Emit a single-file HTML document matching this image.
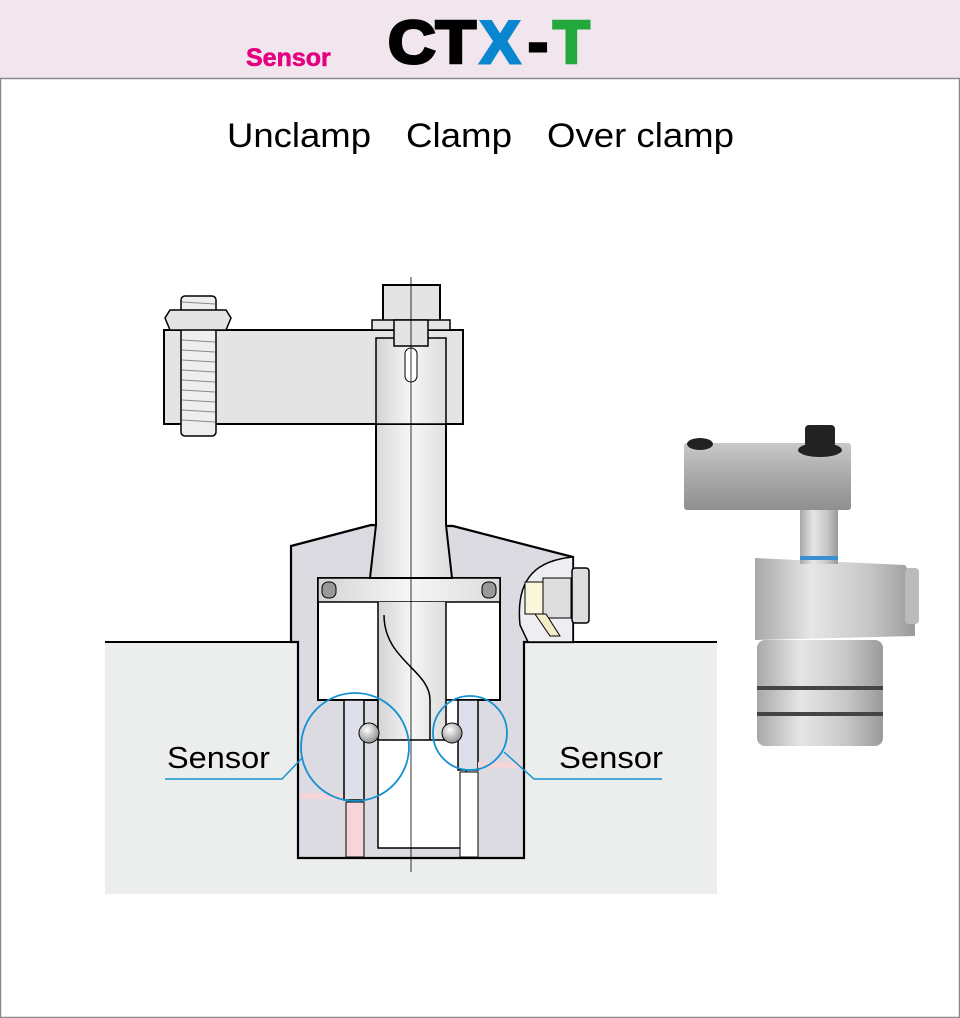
<!DOCTYPE html>
<html><head><meta charset="utf-8"><style>
html,body{margin:0;padding:0;background:#fff}
svg{display:block}
</style></head><body>
<svg width="960" height="1018" viewBox="0 0 960 1018" xmlns="http://www.w3.org/2000/svg" font-family="Liberation Sans, sans-serif">
<defs>
<linearGradient id="rod" x1="0" x2="1"><stop offset="0" stop-color="#d4d4d6"/><stop offset="0.5" stop-color="#f6f6f6"/><stop offset="1" stop-color="#dcdcdc"/></linearGradient>
<linearGradient id="met" x1="0" x2="1"><stop offset="0" stop-color="#a8a8a8"/><stop offset="0.35" stop-color="#e6e6e6"/><stop offset="0.7" stop-color="#c8c8c8"/><stop offset="1" stop-color="#9a9a9a"/></linearGradient>
<linearGradient id="arm" x1="0" y1="0" x2="0" y2="1"><stop offset="0" stop-color="#c9c9c9"/><stop offset="0.5" stop-color="#a9a9a9"/><stop offset="1" stop-color="#8f8f8f"/></linearGradient>
<radialGradient id="ball" cx="0.4" cy="0.35" r="0.7"><stop offset="0" stop-color="#fff"/><stop offset="1" stop-color="#888"/></radialGradient>
</defs>
<rect x="0" y="0" width="960" height="78" fill="#f2e6ee"/>
<rect x="0.5" y="78.5" width="959" height="939" fill="#fff" stroke="#8a8a8a" stroke-width="1.5"/>
<text x="246" y="66" font-size="25" font-weight="bold" fill="#e4007f" stroke="#e4007f" stroke-width="0.6">Sensor</text>
<g font-size="60" font-weight="bold" stroke-width="3">
<text x="388" y="63" fill="#000" stroke="#000" textLength="88" lengthAdjust="spacingAndGlyphs">CT</text>
<text x="480" y="63" fill="#0a86d0" stroke="#0a86d0">X</text>
<text x="528" y="63" fill="#000" stroke="#000">-</text>
<text x="553" y="63" fill="#22a83c" stroke="#22a83c">T</text>
</g>
<text x="227" y="147" font-size="34" fill="#000" textLength="144" lengthAdjust="spacingAndGlyphs">Unclamp</text>
<text x="406" y="147" font-size="34" fill="#000" textLength="106" lengthAdjust="spacingAndGlyphs">Clamp</text>
<text x="547" y="147" font-size="34" fill="#000" textLength="187" lengthAdjust="spacingAndGlyphs">Over clamp</text>

<rect x="105" y="642" width="612" height="252" fill="#eceeee"/>
<line x1="105" y1="642" x2="296" y2="642" stroke="#000" stroke-width="2"/>
<line x1="572" y1="642" x2="717" y2="642" stroke="#000" stroke-width="2"/>
<path d="M291,546 L371,525 L453,526 L573,557 L573,642 L524,642 L524,858 L298,858 L298,642 L291,642 Z" fill="#dcdbe2" stroke="#000" stroke-width="2.2"/>
<rect x="318" y="578" width="182" height="122" fill="#fff" stroke="#000" stroke-width="2"/>
<rect x="318" y="578" width="182" height="24" fill="url(#rod)" stroke="#000" stroke-width="1.5"/>
<rect x="322" y="582" width="14" height="16" rx="6" fill="#999" stroke="#000"/>
<rect x="482" y="582" width="14" height="16" rx="6" fill="#999" stroke="#000"/>
<rect x="378" y="700" width="88" height="148" fill="#fff" stroke="#000" stroke-width="1.5"/>
<path d="M378,602 L378,740 L446,740 L446,602" fill="url(#rod)" stroke="#000" stroke-width="1.5"/>
<path d="M384,615 C384,660 430,670 430,700 L430,740" fill="none" stroke="#000" stroke-width="1.5"/>
<rect x="300" y="793" width="48" height="6" fill="#f5d4da"/>
<rect x="344" y="700" width="20" height="100" fill="#dde0ea" stroke="#000" stroke-width="1.5"/>
<rect x="346" y="802" width="18" height="55" fill="#f5d4da" stroke="#000"/>
<circle cx="369" cy="733" r="10" fill="url(#ball)" stroke="#000"/>
<rect x="458" y="700" width="20" height="70" fill="#dde0ea" stroke="#000" stroke-width="1.5"/>
<rect x="478" y="762" width="44" height="6" fill="#f5d4da"/>
<rect x="460" y="772" width="18" height="85" fill="#fff" stroke="#000"/>
<circle cx="452" cy="733" r="10" fill="url(#ball)" stroke="#000"/>
<path d="M376,338 L446,338 L446,525 L452,578 L370,578 L376,525 Z" fill="url(#rod)" stroke="#000" stroke-width="2"/>
<rect x="164" y="330" width="299" height="94" fill="#e4e4e4" stroke="#000" stroke-width="2"/>
<path d="M376,338 L446,338 L446,424 L376,424 Z" fill="url(#rod)" stroke="#000" stroke-width="1.5"/>
<rect x="405" y="348" width="12" height="34" rx="6" fill="#fff" stroke="#000"/>
<rect x="181" y="296" width="35" height="140" rx="4" fill="#eee" stroke="#000" stroke-width="1.5"/>
<g stroke="#888" stroke-width="1">
<line x1="182" y1="340" x2="215" y2="342"/><line x1="182" y1="350" x2="215" y2="352"/><line x1="182" y1="360" x2="215" y2="362"/><line x1="182" y1="370" x2="215" y2="372"/><line x1="182" y1="380" x2="215" y2="382"/><line x1="182" y1="390" x2="215" y2="392"/><line x1="182" y1="400" x2="215" y2="402"/><line x1="182" y1="410" x2="215" y2="412"/><line x1="182" y1="420" x2="215" y2="422"/><line x1="182" y1="302" x2="215" y2="304"/>
</g>
<path d="M170,310 L226,310 L231,318 L226,330 L170,330 L165,318 Z" fill="#e4e4e4" stroke="#000" stroke-width="1.5"/>
<rect x="383" y="285" width="57" height="36" fill="#e4e4e4" stroke="#000" stroke-width="2"/>
<rect x="372" y="320" width="78" height="10" fill="#e4e4e4" stroke="#000" stroke-width="1.5"/>
<rect x="394" y="320" width="34" height="26" fill="#e4e4e4" stroke="#000" stroke-width="1.5"/>
<path d="M573,557 C540,560 515,575 520,625 L528,642 L573,642 Z" fill="#eeeef2" stroke="#000" stroke-width="1.5"/>
<rect x="525" y="582" width="18" height="32" fill="#fbf6da" stroke="#000"/>
<rect x="543" y="578" width="28" height="40" fill="#ddd" stroke="#000"/>
<rect x="572" y="568" width="17" height="55" rx="3" fill="#ddd" stroke="#000" stroke-width="1.5"/>
<path d="M535,614 L546,614 L560,636 L550,636 Z" fill="#f3ecc8" stroke="#000"/>
<line x1="411" y1="277" x2="411" y2="872" stroke="#000" stroke-width="0.8"/>
<circle cx="355" cy="747" r="54" fill="none" stroke="#1792d0" stroke-width="1.8"/>
<circle cx="470" cy="733" r="37" fill="none" stroke="#1792d0" stroke-width="1.8"/>
<polyline points="303,757 282,779 165,779" fill="none" stroke="#1792d0" stroke-width="1.5"/>
<polyline points="504,752 534,779 662,779" fill="none" stroke="#1792d0" stroke-width="1.5"/>
<text x="167" y="768" font-size="31" fill="#000" textLength="103" lengthAdjust="spacingAndGlyphs">Sensor</text>
<text x="559" y="768" font-size="31" fill="#000" textLength="104" lengthAdjust="spacingAndGlyphs">Sensor</text>

<rect x="757" y="640" width="126" height="106" rx="8" fill="url(#met)"/>
<rect x="757" y="686" width="126" height="4" fill="#444"/>
<rect x="757" y="712" width="126" height="4" fill="#444"/>
<path d="M755,558 L905,565 L915,580 L915,636 L755,640 Z" fill="url(#met)"/>
<rect x="905" y="568" width="14" height="56" rx="4" fill="#bbb"/>
<rect x="800" y="510" width="38" height="54" fill="url(#met)"/>
<rect x="800" y="556" width="38" height="4" fill="#3a8fd0"/>
<rect x="684" y="443" width="167" height="67" rx="3" fill="url(#arm)"/>
<ellipse cx="700" cy="444" rx="13" ry="6" fill="#222"/>
<rect x="805" y="425" width="30" height="22" rx="4" fill="#222"/>
<ellipse cx="820" cy="450" rx="22" ry="7" fill="#222"/>
</svg>
</body></html>
